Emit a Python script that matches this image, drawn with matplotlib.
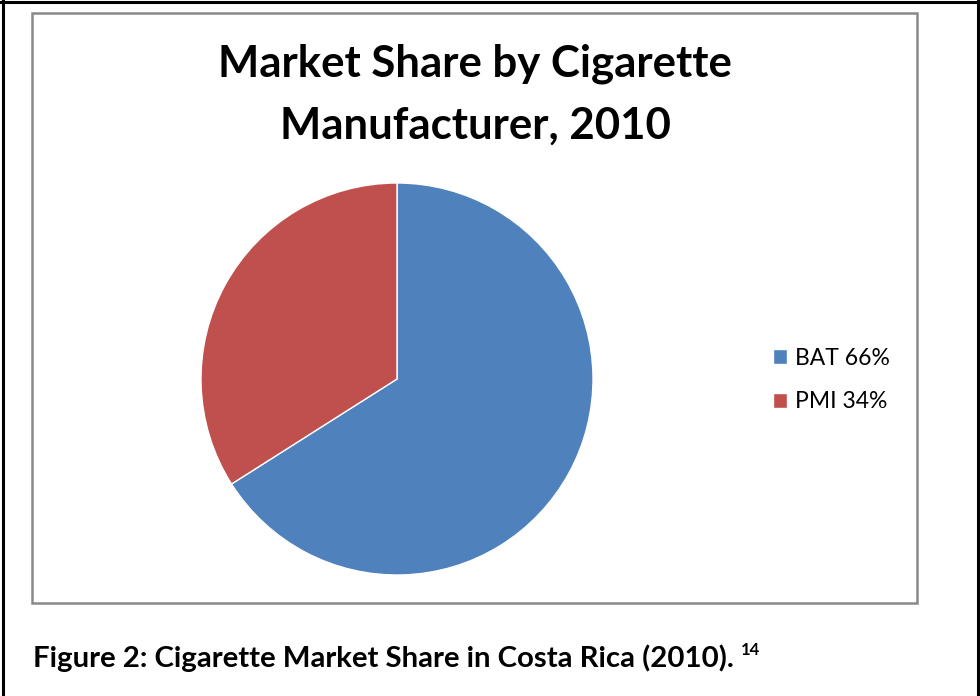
import matplotlib
matplotlib.use("Agg")
import matplotlib.pyplot as plt
from matplotlib.patches import Rectangle
from matplotlib.lines import Line2D

# chart data
manufacturers = ['BAT', 'PMI']
shares = [66, 34]
colors = ['#4F81BD', '#C0504D']
title_lines = ['Market Share by Cigarette', 'Manufacturer, 2010']
caption = 'Figure 2: Cigarette Market Share in Costa Rica (2010).'
footnote = '14'

W, H = 980, 696
plt.rcParams['font.family'] = ['Lato', 'DejaVu Sans']

fig = plt.figure(figsize=(W / 100, H / 100), dpi=100)


def fx(px):
    return px / W


def fy(py):  # py measured from top
    return 1 - py / H


# page frame: left, top, right black lines
for xs, ys in [((3, 3), (0, H + 5)), ((0, W), (1.5, 1.5)), ((978, 978), (0, H + 5))]:
    fig.add_artist(Line2D([fx(x) for x in xs], [fy(y) for y in ys], transform=fig.transFigure,
                          color='black', linewidth=2.2))

# chart area frame
fig.patches.append(Rectangle((fx(32), fy(603)), fx(885), (603 - 13) / H, transform=fig.transFigure,
                             fill=False, edgecolor='#898989', linewidth=1.8))

ax = fig.add_axes([fx(201), fy(575), fx(392), 392 / H])
wedges, _ = ax.pie(shares, colors=colors, startangle=90, counterclock=False,
                   wedgeprops=dict(edgecolor='white', linewidth=1))
ax.set_xlim(-1, 1)
ax.set_ylim(-1, 1)

for line, base in zip(title_lines, [77, 139]):
    fig.text(fx(475), fy(base), line, ha='center', va='baseline', fontsize=31.5, fontweight='bold')

labels = [f'{m} {s}%' for m, s in zip(manufacturers, shares)]
fig.legend(wedges, labels, loc='center left', bbox_to_anchor=(fx(773), fy(380)), frameon=False,
           borderpad=0, borderaxespad=0, fontsize=16.5, handlelength=0.62, handleheight=0.62,
           handletextpad=0.35, labelspacing=0.98)

cap = fig.text(fx(33), fy(667), caption, ha='left', va='baseline', fontsize=21.2, fontweight='bold')
fig.canvas.draw()
bb = cap.get_window_extent()
fig.text((bb.x1 + 7) / W, fy(655), footnote, ha='left', va='baseline', fontsize=12, fontweight='bold')

fig.savefig('out.png', dpi=100)
